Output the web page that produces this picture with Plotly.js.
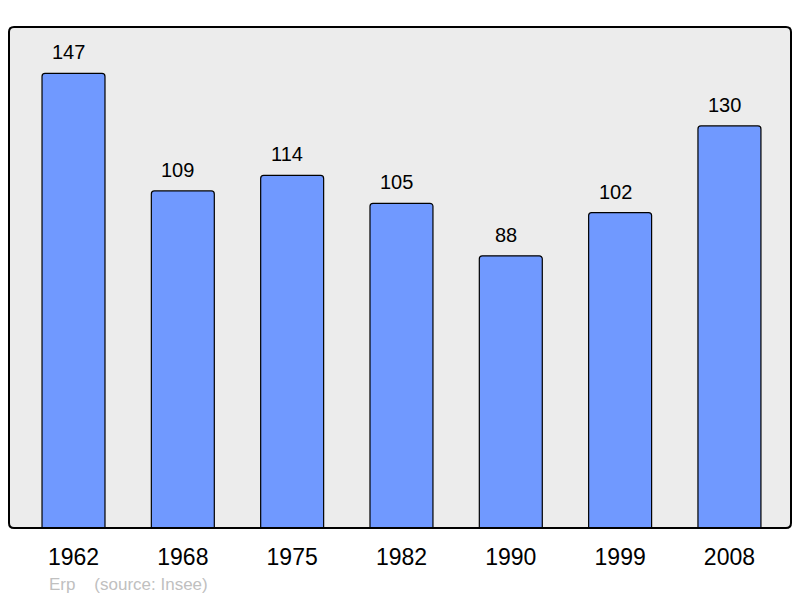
<!DOCTYPE html>
<html><head><meta charset="utf-8">
<script src="https://cdn.plot.ly/plotly-3.0.1.min.js"></script>
<style>html,body{margin:0;padding:0;background:#fff;}</style>
</head><body>
<div id="chart" style="width:800px;height:598px;"></div>
<script>
var years = ["1962","1968","1975","1982","1990","1999","2008"];
var population = [147,109,114,105,88,102,130];
var sourceNote = "Erp\u00a0\u00a0\u00a0\u00a0(source: Insee)";

var trace = {
  type: "bar",
  x: years,
  y: population,
  width: 0.576,
  marker: {color: "#7099ff", line: {color: "#000", width: 1.2}, cornerradius: 3},
  hoverinfo: "none"
};
var annotations = years.map(function(y, i){
  return {x: i, y: population[i], xref: "x", yref: "y", text: String(population[i]),
    showarrow: false, xanchor: "center", yanchor: "middle", yshift: 21, xshift: -5,
    font: {family: "Liberation Sans, Arial, sans-serif", size: 20, color: "#000"}};
});
annotations.push({xref: "paper", yref: "paper", x: 0.0485, y: -0.113, xanchor: "left", yanchor: "middle",
  text: sourceNote, showarrow: false,
  font: {family: "Liberation Sans, Arial, sans-serif", size: 17, color: "#c0c0c0"}});

// rounded frame in paper units (radius ~5px)
var rx = 5/782, ry = 5/501;
var framePath = "M " + rx + ",0 L " + (1-rx) + ",0 Q 1,0 1," + ry +
  " L 1," + (1-ry) + " Q 1,1 " + (1-rx) + ",1 L " + rx + ",1 Q 0,1 0," + (1-ry) +
  " L 0," + ry + " Q 0,0 " + rx + ",0 Z";

var layout = {
  width: 800, height: 598,
  margin: {l: 9, r: 9, t: 27, b: 70},
  paper_bgcolor: "#fff",
  plot_bgcolor: "#ececec",
  showlegend: false,
  xaxis: {type: "category", range: [-0.59, 6.563], showgrid: false, zeroline: false,
    ticks: "outside", ticklen: 0, ticklabelstandoff: 8,
    tickfont: {family: "Liberation Sans, Arial, sans-serif", size: 23, color: "#000"}},
  yaxis: {range: [0, 162], showgrid: false, zeroline: false, showticklabels: false, ticks: ""},
  shapes: [{type: "path", xref: "paper", yref: "paper", path: framePath,
    line: {color: "#000", width: 2}, layer: "above"}],
  annotations: annotations
};
Plotly.newPlot("chart", [trace], layout, {staticPlot: true});
</script>
</body></html>
